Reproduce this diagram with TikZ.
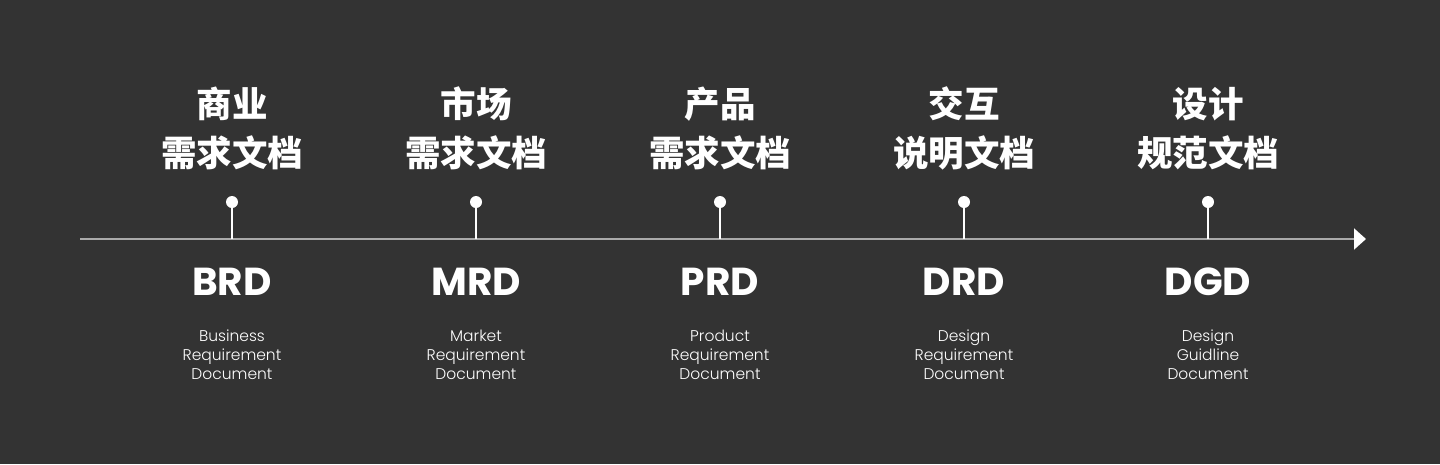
\documentclass[tikz,border=0pt]{standalone}
\usepackage{fontspec}
\setmainfont{Poppins}
\newfontfamily\lightfont{Poppins Light}
\newfontfamily\cjk{Noto Sans CJK SC}
\usetikzlibrary{arrows.meta}
\definecolor{bg}{HTML}{333333}
\definecolor{axisgray}{HTML}{AAAAAA}
\begin{document}
\begin{tikzpicture}[x=1pt,y=-1pt,
  cntitle/.style={text=white,inner sep=0,font={\cjk\bfseries\fontsize{35.5}{40}\selectfont}},
  abbr/.style={text=white,inner sep=0,anchor=base,font={\bfseries\fontsize{39}{44}\selectfont}},
  desc/.style={text=white,inner sep=0,align=center,font={\lightfont\fontsize{15.5}{19}\selectfont}},
  dot/.style={circle,fill=white,inner sep=0,minimum size=12pt},
  stem/.style={draw=white,line width=1.2pt},
  axisline/.style={draw=axisgray,line width=2pt,-{Triangle[length=12pt,width=21pt,color=white]}}]
\fill[bg] (0,0) rectangle (1440,464);
\useasboundingbox (0,0) rectangle (1440,464);
\coordinate (s) at (80,239);
\coordinate (e) at (1366,239);
\draw[axisline] (s) -- (e);
\foreach \i/\x/\a/\b/\ab/\da/\db in {
  1/232/商业/需求文档/BRD/Business/Requirement,
  2/476/市场/需求文档/MRD/Market/Requirement,
  3/720/产品/需求文档/PRD/Product/Requirement,
  4/964/交互/说明文档/DRD/Design/Requirement,
  5/1208/设计/规范文档/DGD/Design/Guidline}{
  \node[cntitle] (ta\i) at (\x,104) {\a};
  \node[cntitle] (tb\i) at (\x,153) {\b};
  \node[dot] (d\i) at (\x,202) {};
  \coordinate (p\i) at (\x,239);
  \draw[stem] (d\i.center) -- (p\i);
  \node[abbr] (ab\i) at (\x,295) {\ab};
  \node[desc] (de\i) at (\x,354.5) {\da\\\db\\Document};
}
\end{tikzpicture}
\end{document}
